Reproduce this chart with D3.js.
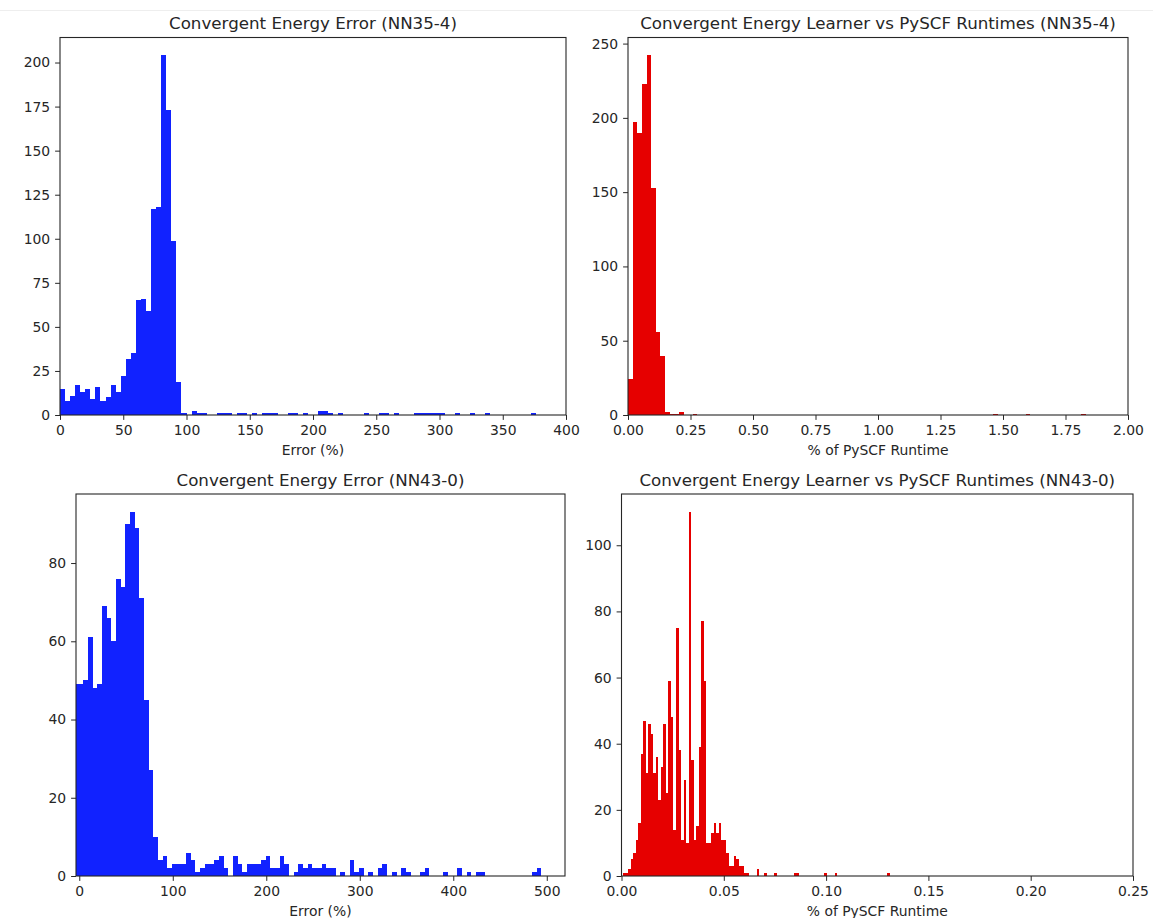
<!DOCTYPE html>
<html>
<head>
<meta charset="utf-8">
<script src="https://cdn.jsdelivr.net/npm/d3@7"></script>
<style>
  body { margin: 0; background: #fff; }
  text { font-family: "DejaVu Sans", sans-serif; }
</style>
</head>
<body>
<div id="chart"></div>
<script>
// histogram counts (one value per bin)

// NN35-4 error, bins of 4 starting at 0
var errStart35 = 0, errWidth35 = 4;
var errCounts35 = [
  15, 8, 11, 17, 13, 15, 9, 16, 8, 10, 17, 13, 22, 32, 35, 65, 66, 59, 117, 118,
  204, 173, 99, 19, 1, 0, 2, 1, 1, 0, 0, 1, 1, 1, 0, 1, 1, 0, 1, 0,
  1, 1, 1, 0, 0, 1, 1, 0, 1, 0, 0, 2, 2, 1, 0, 1, 0, 0, 0, 0,
  1, 0, 0, 1, 1, 0, 1, 0, 0, 0, 1, 1, 1, 1, 1, 1, 0, 0, 1, 0,
  0, 1, 0, 0, 1, 0, 0, 0, 0, 0, 0, 0, 0, 1
];

// NN35-4 runtime share, bins of 0.0185 starting at 0
var runStart35 = 0, runWidth35 = 0.0185;
var runCounts35 = [
  24, 197, 190, 223, 242, 153, 56, 40, 2, 1, 1, 2, 0, 0, 1, 0, 0, 0, 0, 0,
  0, 0, 0, 0, 0, 0, 0, 0, 0, 0, 0, 0, 0, 0, 0, 0, 0, 0, 0, 0,
  0, 0, 0, 0, 0, 0, 0, 0, 0, 0, 0, 0, 0, 0, 0, 0, 0, 0, 0, 0,
  0, 0, 0, 0, 0, 0, 0, 0, 0, 0, 0, 0, 0, 0, 0, 0, 0, 0, 0, 1,
  0, 0, 0, 0, 0, 0, 1, 0, 0, 0, 0, 0, 0, 0, 0, 0, 0, 0, 1
];

// NN43-0 error, bins of 5 starting at -5.7
var errStart43 = -5.7, errWidth43 = 5;
var errCounts43 = [
  49, 49, 50, 61, 48, 49, 69, 66, 60, 76, 74, 90, 93, 89, 71, 45, 27, 10, 4, 5,
  2, 3, 3, 3, 6, 4, 1, 2, 3, 3, 4, 5, 2, 0, 5, 3, 1, 3, 3, 3,
  4, 5, 2, 2, 5, 3, 0, 1, 3, 2, 3, 2, 2, 3, 2, 2, 0, 1, 0, 4,
  1, 2, 0, 1, 0, 2, 3, 0, 1, 0, 2, 1, 0, 0, 1, 2, 0, 0, 0, 1,
  0, 0, 2, 0, 1, 0, 1, 1, 0, 0, 0, 0, 0, 0, 0, 0, 0, 0, 1, 2
];

// NN43-0 runtime share, bins of 0.00123 starting at 0.0008
var runStart43 = 0.0008, runWidth43 = 0.00123;
var runCounts43 = [
  1, 1, 2, 5, 7, 11, 16, 37, 47, 31, 46, 43, 31, 36, 23, 33, 46, 25, 59, 48,
  14, 75, 38, 11, 29, 10, 110, 35, 11, 15, 39, 77, 59, 10, 10, 13, 16, 13, 16, 11,
  11, 7, 3, 3, 6, 5, 3, 3, 1, 1, 0, 0, 0, 2, 0, 0, 1, 0, 0, 0,
  1, 0, 0, 0, 0, 0, 0, 0, 1, 1, 0, 0, 0, 0, 0, 0, 0, 0, 0, 0,
  1, 0, 0, 0, 1, 0, 0, 0, 0, 0, 0, 0, 0, 0, 0, 0, 0, 0, 0, 0,
  0, 0, 0, 0, 0, 1
];

// tick values
var errTicks35 = [0, 50, 100, 150, 200, 250, 300, 350, 400];
var cntTicks35 = [0, 25, 50, 75, 100, 125, 150, 175, 200];
var runTicks35 = [0, 0.25, 0.5, 0.75, 1, 1.25, 1.5, 1.75, 2];
var runCntTicks35 = [0, 50, 100, 150, 200, 250];
var errTicks43 = [0, 100, 200, 300, 400, 500];
var cntTicks43 = [0, 20, 40, 60, 80];
var runTicks43 = [0, 0.05, 0.1, 0.15, 0.2, 0.25];
var runCntTicks43 = [0, 20, 40, 60, 80, 100];

var blue = "#1122ff", red = "#e60000", ink = "#262626";

var svg = d3.select("#chart")
  .append("svg")
    .attr("width", 1153)
    .attr("height", 918);

// faint rule across the top of the screenshot
svg.append("line")
  .attr("x1", 0).attr("x2", 1153).attr("y1", 10.5).attr("y2", 10.5)
  .attr("stroke", "#eeeeee");

function drawHist(p) {
  var w = p.right - p.left, h = p.bottom - p.top;
  var g = svg.append("g")
    .attr("transform", "translate(" + p.left + "," + p.top + ")");

  var x = d3.scaleLinear().domain(p.xDomain).range([0, w]);
  var y = d3.scaleLinear().domain([0, d3.max(p.counts) * 1.05]).range([h, 0]);

  g.append("clipPath").attr("id", "clip" + p.id)
    .append("rect").attr("width", w).attr("height", h);

  var bins = p.counts.map(function(c, i) {
    return {x0: p.start + i * p.binWidth, x1: p.start + (i + 1) * p.binWidth, n: c};
  }).filter(function(d) { return d.n > 0; });

  // crisp edges so neighbouring bars don't leave light seams
  g.append("g")
    .attr("clip-path", "url(#clip" + p.id + ")")
    .attr("shape-rendering", "crispEdges")
    .selectAll("rect")
    .data(bins)
    .enter().append("rect")
      .attr("x", function(d) { return x(d.x0); })
      .attr("width", function(d) { return x(d.x1) - x(d.x0); })
      .attr("y", function(d) { return y(d.n); })
      .attr("height", function(d) { return h - y(d.n); })
      .attr("fill", p.color);

  // x axis
  g.append("g")
    .attr("transform", "translate(0," + h + ")")
    .attr("color", ink)
    .call(d3.axisBottom(x).tickValues(p.xTicks).tickFormat(p.xFmt)
      .tickSize(4.9).tickSizeOuter(0).tickPadding(5.5))
    .call(function(a) {
      a.select(".domain").remove();
      a.selectAll("text").attr("font-size", 13.9).attr("font-family", "DejaVu Sans");
    });

  // y axis
  g.append("g")
    .attr("color", ink)
    .call(d3.axisLeft(y).tickValues(p.yTicks).tickFormat(d3.format("d"))
      .tickSize(4.9).tickSizeOuter(0).tickPadding(4.9))
    .call(function(a) {
      a.select(".domain").remove();
      a.selectAll("text").attr("font-size", 13.9).attr("font-family", "DejaVu Sans");
    });

  // frame
  g.append("rect")
    .attr("width", w).attr("height", h)
    .attr("fill", "none").attr("stroke", ink).attr("stroke-width", 1.1);

  // title and label
  g.append("text")
    .attr("x", w / 2).attr("y", -8.3)
    .attr("text-anchor", "middle")
    .attr("font-size", 16.7)
    .attr("fill", ink)
    .text(p.title);

  g.append("text")
    .attr("x", w / 2).attr("y", h + 40)
    .attr("text-anchor", "middle")
    .attr("font-size", 13.9)
    .attr("fill", ink)
    .text(p.xLabel);
}

drawHist({
  id: 1, left: 60, right: 566, top: 37.5, bottom: 415,
  xDomain: [0, 400], xTicks: errTicks35, xFmt: d3.format("d"), yTicks: cntTicks35,
  counts: errCounts35, start: errStart35, binWidth: errWidth35, color: blue,
  title: "Convergent Energy Error (NN35-4)", xLabel: "Error (%)"
});

drawHist({
  id: 2, left: 628, right: 1128, top: 37.5, bottom: 415,
  xDomain: [0, 2], xTicks: runTicks35, xFmt: d3.format(".2f"), yTicks: runCntTicks35,
  counts: runCounts35, start: runStart35, binWidth: runWidth35, color: red,
  title: "Convergent Energy Learner vs PySCF Runtimes (NN35-4)", xLabel: "% of PySCF Runtime"
});

drawHist({
  id: 3, left: 76, right: 565, top: 494, bottom: 876,
  xDomain: [-3.5, 519.5], xTicks: errTicks43, xFmt: d3.format("d"), yTicks: cntTicks43,
  counts: errCounts43, start: errStart43, binWidth: errWidth43, color: blue,
  title: "Convergent Energy Error (NN43-0)", xLabel: "Error (%)"
});

drawHist({
  id: 4, left: 621.5, right: 1133, top: 494, bottom: 876,
  xDomain: [0, 0.25], xTicks: runTicks43, xFmt: d3.format(".2f"), yTicks: runCntTicks43,
  counts: runCounts43, start: runStart43, binWidth: runWidth43, color: red,
  title: "Convergent Energy Learner vs PySCF Runtimes (NN43-0)", xLabel: "% of PySCF Runtime"
});
</script>
</body>
</html>
